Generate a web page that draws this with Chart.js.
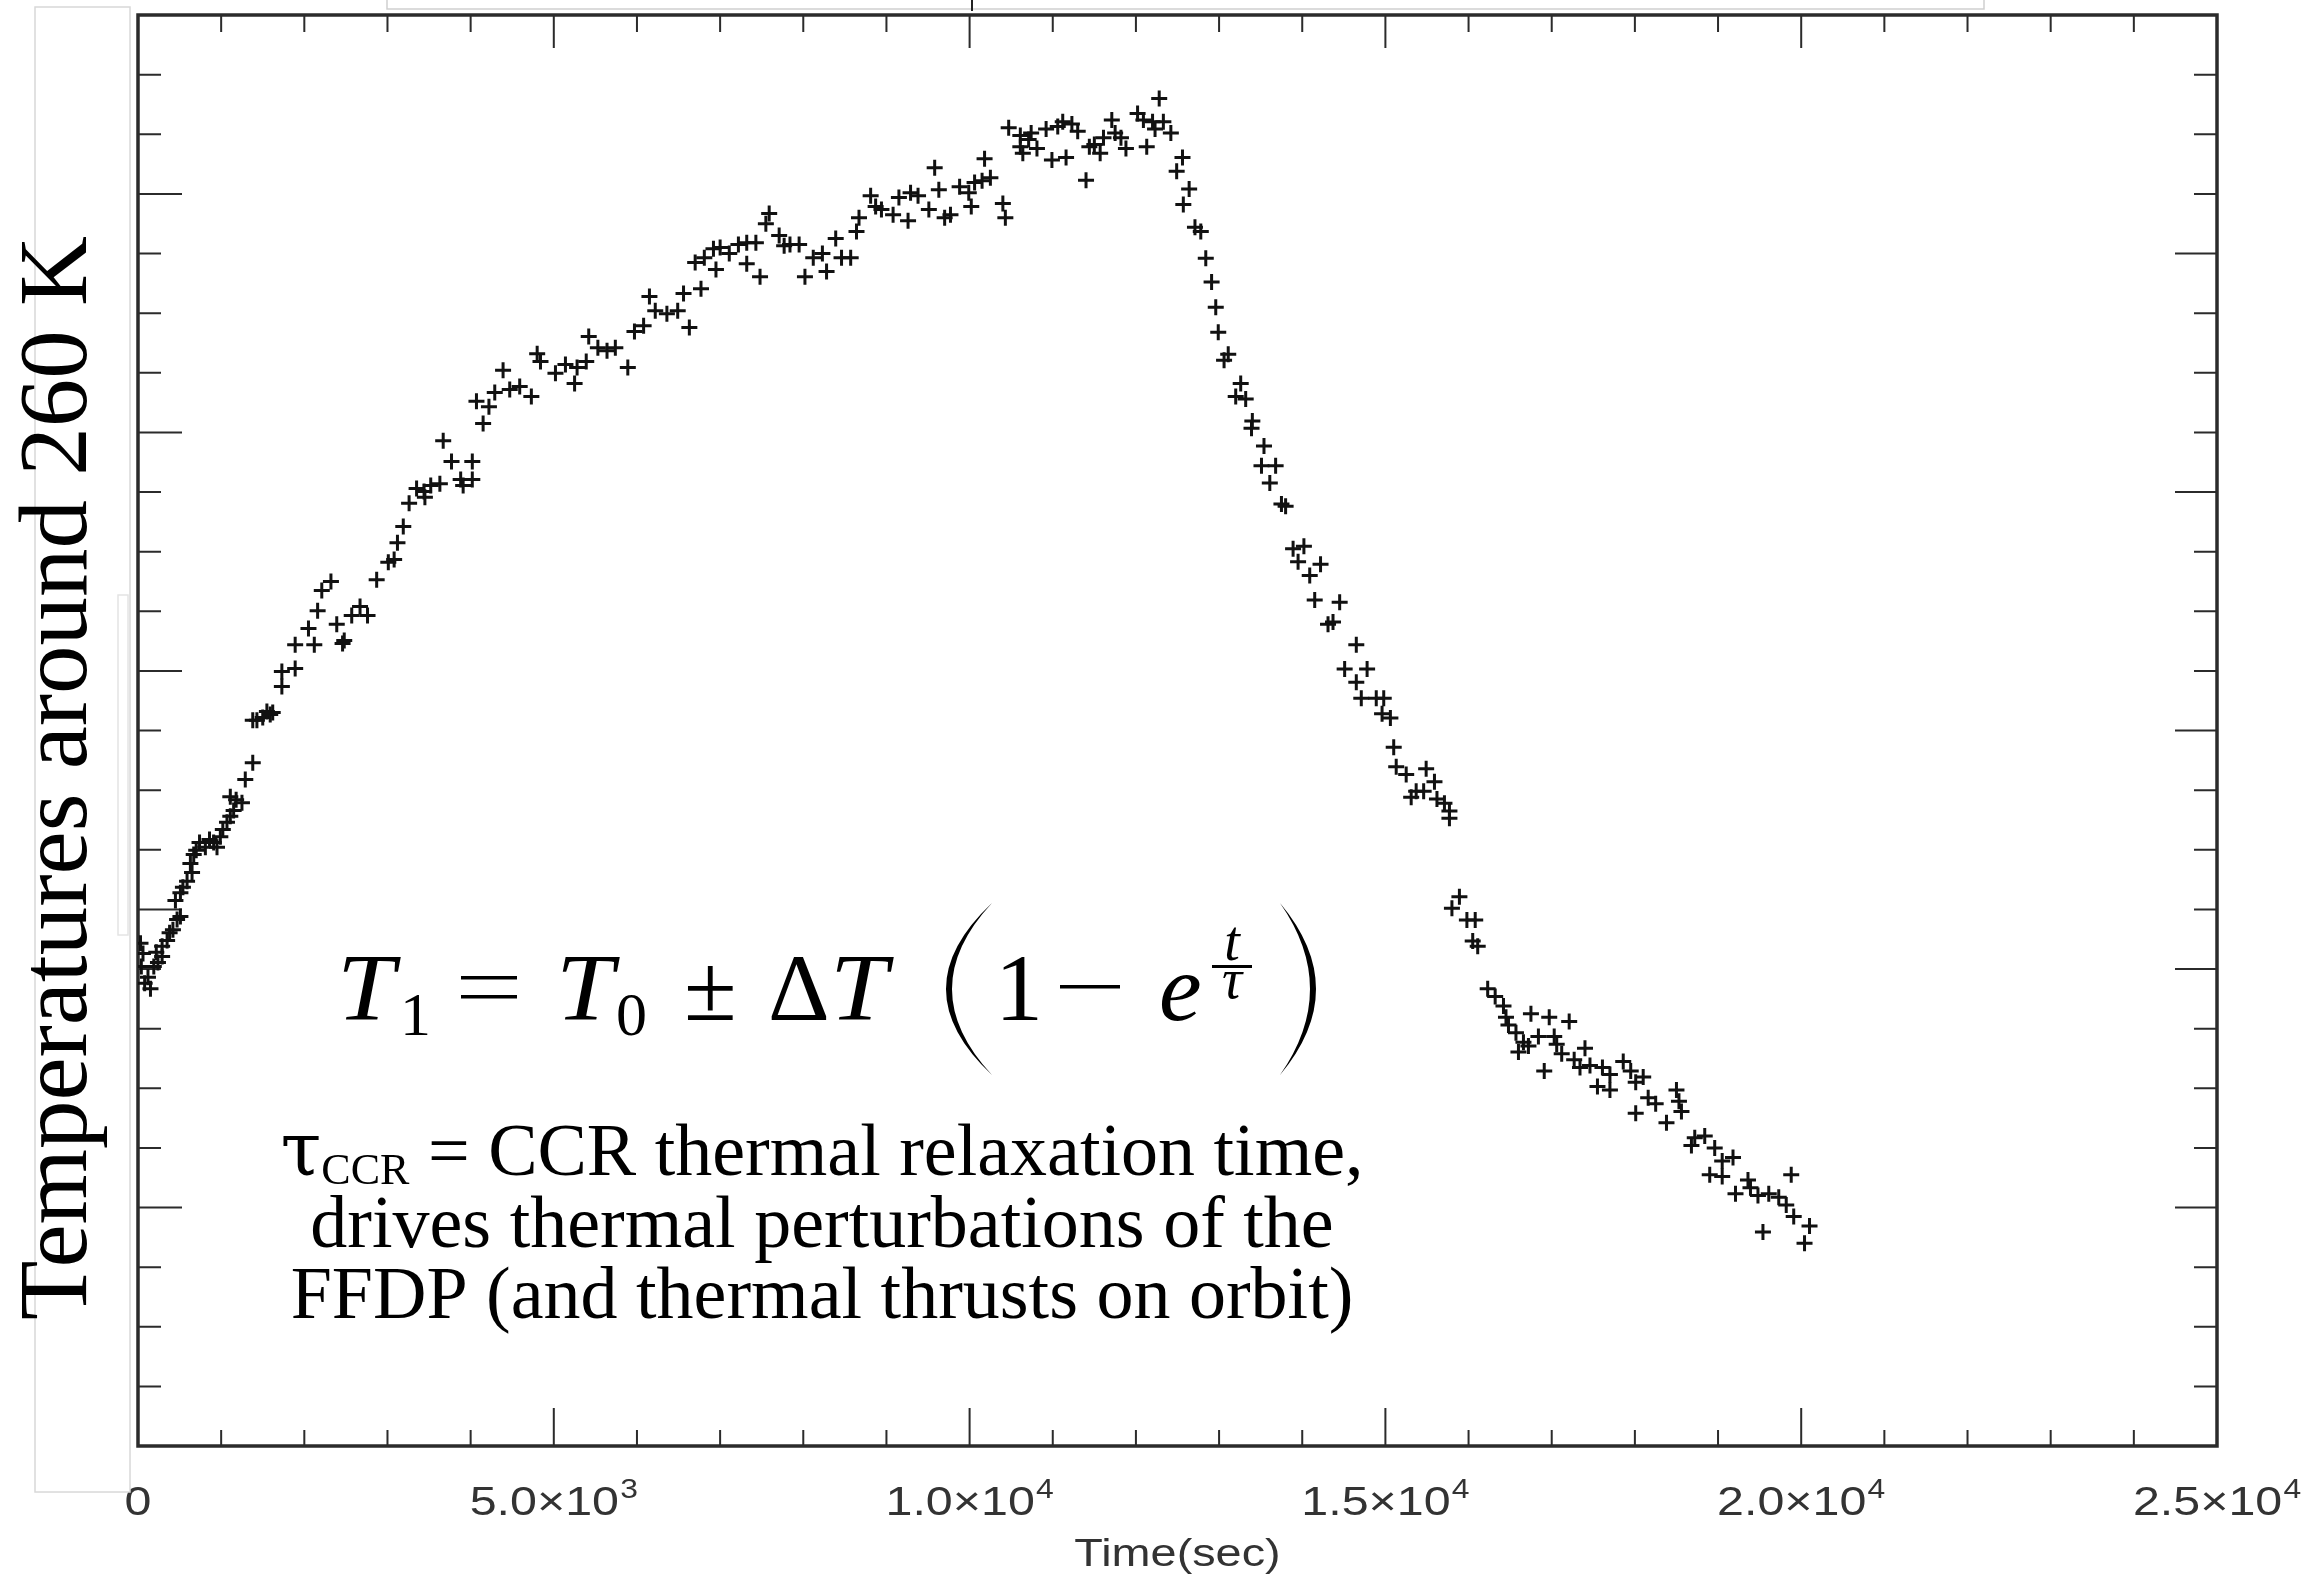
<!DOCTYPE html>
<html>
<head>
<meta charset="utf-8">
<script src="https://cdn.jsdelivr.net/npm/chart.js@4.4.1/dist/chart.umd.min.js"></script>
<style>
    html, body { margin: 0; padding: 0; background: #fff; }
    #wrap { width: 2315px; height: 1577px; position: relative; }
</style>
</head>
<body>
<div id="wrap"><canvas id="tempChart"></canvas></div>
<script>
// time in seconds
const tSec = [
    30, 40, 60, 80, 120, 150, 190, 220, 240, 290, 290, 350, 380, 420, 450, 470, 510, 510, 540, 590,
    630, 650, 670, 700, 740, 810, 860, 910, 950, 990, 1020, 1070, 1110, 1110, 1150, 1180, 1250, 1290, 1380, 1380,
    1430, 1500, 1550, 1590, 1620,
    1730, 1730, 1890, 1890, 2050, 2120, 2160, 2210, 2320, 2390, 2460, 2480, 2570, 2670, 2760, 2870, 3010, 3080, 3120, 3190,
    3260, 3350, 3440, 3450, 3520, 3630, 3670, 3770, 3880, 3910, 4020, 4020, 4070, 4150, 4220, 4290, 4390, 4470, 4590, 4730,
    4800, 4840, 5020, 5140, 5250, 5280, 5390, 5420, 5530, 5640, 5740, 5890, 5970, 6080, 6150, 6220, 6360, 6490, 6560, 6630,
    6700, 6770, 6810, 6920, 6950, 7000, 7110, 7220, 7320, 7320, 7430, 7480, 7550, 7590, 7710, 7770, 7840, 7950, 8020, 8120,
    8230, 8280, 8390, 8460, 8570, 8640, 8670, 8810, 8870, 8940, 9080, 9150, 9260, 9290, 9380, 9510, 9580, 9630, 9700, 9770,
    9880, 9990, 10020, 10060, 10150, 10180, 10250, 10400, 10430, 10470, 10610, 10610,
    10640, 10710, 10740, 10810, 10920, 10990, 11060, 11120, 11160, 11230, 11300, 11400, 11440, 11500, 11570, 11610, 11710, 11750, 11820, 11880,
    12020, 12090, 12130, 12200, 12230, 12280, 12330, 12420, 12490, 12560, 12570, 12640, 12710, 12780, 12840, 12910, 12960, 12990, 13060, 13110,
    13200, 13260, 13320, 13390, 13400, 13510, 13540, 13610, 13680, 13750, 13800, 13890, 13950, 14020, 14090, 14150, 14220, 14310, 14370, 14450,
    14510, 14650, 14650, 14710, 14780, 14890, 14960, 14980, 15060,
    15100, 15130, 15250, 15310, 15370, 15460, 15490, 15590, 15620, 15710, 15770, 15770, 15890, 15800, 15980, 16080, 16050, 16110, 16230, 16320,
    16420, 16450, 16480, 16750, 16970, 17210, 16570, 16660, 16840, 17030, 17060, 16600, 16720, 16910, 17120, 17270, 17400, 17340, 17460, 17610,
    17700, 17550, 17700, 17860, 17950, 18100, 18010, 18160, 18250, 18500, 18530, 18560, 18010, 18380, 18720, 18840, 18680, 18960, 19050, 19180,
    18900, 19050, 19360, 19210, 19390, 19480, 19610, 19730, 19880, 19820, 19910, 20100, 19540, 20040
];
// temperature, arbitrary offset units (axis has no labels)
const tempOffset = [
    8.43, 8.04, 8.26, 7.76, 7.86, 7.67, 8.04, 8.28, 8.11, 8.21, 8.38, 8.48, 8.61, 8.66, 9.15, 8.83, 8.88, 9.28, 9.37, 9.47,
    9.77, 9.62, 9.92, 9.99, 10.12, 10.04, 10.17, 10.12, 10.04, 10.22, 10.34, 10.46, 10.56, 10.89, 10.66, 10.84, 10.79, 11.18, 11.46, 12.17,
    12.17, 12.22, 12.32, 12.27, 12.30,
    12.74, 12.99, 13.04, 13.44, 13.71, 13.44, 14.01, 14.35, 14.50, 13.78, 13.46, 13.51, 13.93, 14.08, 13.93, 14.53, 14.82, 14.87, 15.15, 15.42,
    15.81, 16.06, 16.01, 15.91, 16.11, 16.14, 16.86, 16.51, 16.21, 16.11, 16.51, 16.21, 17.52, 17.15, 17.43, 17.67, 18.04, 17.72, 17.77, 17.60,
    18.32, 18.19, 17.99, 18.14, 17.82, 18.09, 18.19, 18.61, 18.42, 18.37, 18.42, 18.09, 18.69, 18.79, 19.28, 19.04, 18.99, 19.04, 19.33, 18.76,
    19.85, 19.41, 19.93, 20.08, 19.73, 20.10, 20.00, 20.15, 20.18, 19.83, 20.18, 19.61, 20.50, 20.67, 20.30, 20.13, 20.15, 20.15, 19.61, 19.93,
    20.00, 19.70, 20.25, 19.93, 19.93, 20.37, 20.60, 20.97, 20.79, 20.74, 20.65, 20.94, 20.55, 21.02, 20.97, 20.74, 21.44, 21.07, 20.60, 20.65,
    21.12, 21.02, 20.79, 21.19, 21.22, 21.59, 21.27, 20.84, 20.60, 22.11, 21.79, 21.98,
    21.68, 21.91, 22.02, 21.76, 22.09, 21.57, 22.13, 22.21, 21.61, 22.17, 22.05, 21.23, 21.79, 21.83, 21.68, 21.94, 22.24, 22.02, 21.94, 21.76,
    22.35, 22.24, 21.79, 22.21, 22.09, 22.60, 22.21, 22.02, 21.38, 21.61, 20.82, 21.08, 20.44, 20.37, 19.92, 19.52, 19.10, 18.68, 18.21, 18.31,
    17.60, 17.82, 17.56, 17.07, 17.19, 16.44, 16.77, 16.15, 16.44, 15.80, 15.76, 15.05, 14.83, 15.09, 14.60, 14.19, 14.79, 13.78, 13.82, 14.15,
    13.03, 13.44, 12.81, 12.54, 13.03, 12.54, 12.28, 12.54, 12.21,
    11.72, 11.39, 11.26, 10.88, 10.98, 10.98, 11.36, 11.14, 10.85, 10.78, 10.65, 10.53, 9.21, 9.02, 8.82, 8.82, 8.47, 8.38, 7.67, 7.54,
    7.38, 7.19, 7.06, 7.25, 7.19, 7.12, 6.93, 6.77, 6.87, 6.87, 6.74, 6.61, 6.71, 6.29, 6.58, 6.48, 6.67, 6.35, 6.38, 6.35,
    6.23, 6.03, 5.97, 6.45, 6.29, 6.19, 6.10, 5.84, 5.74, 5.97, 5.78, 5.61, 5.58, 5.42, 5.17, 5.20, 5.04, 5.00, 4.78, 4.84,
    4.55, 4.52, 4.46, 4.23, 4.33, 4.20, 4.23, 4.17, 4.55, 4.04, 3.85, 3.69, 3.59, 3.40
];

// axis ticks
const xMajorTicks = [0, 5000, 10000, 15000, 20000, 25000];
const xMinorTicks = [1000, 2000, 3000, 4000, 6000, 7000, 8000, 9000, 11000, 12000, 13000, 14000,
    16000, 17000, 18000, 19000, 21000, 22000, 23000, 24000];
const xTickMantissa = ['0', '5.0\u00d710', '1.0\u00d710', '1.5\u00d710', '2.0\u00d710', '2.5\u00d710'];
const xTickExponent = ['', '3', '4', '4', '4', '4'];
const yTicks = [1, 2, 3, 4, 5, 6, 7, 8, 9, 10, 11, 12, 13, 14, 15, 16, 17, 18, 19, 20, 21, 22, 23];
const yMajorLeft = [4, 9, 13, 17, 21];
const yMajorRight = [4, 8, 12, 16, 20];

const xTitle = 'Time(sec)';
const yTitle = 'Temperatures around 260 K';
const noteLines = ['drives thermal perturbations of the', 'FFDP (and thermal thrusts on orbit)'];

const points = tSec.map((t, i) => ({x: t, y: tempOffset[i]}));

function stretchedText(ctx, text, x0, baseY, font, sx) {
    ctx.font = font;
    ctx.save();
    ctx.translate(x0, baseY);
    ctx.scale(sx, 1);
    ctx.fillText(text, 0, 0);
    ctx.restore();
    return ctx.measureText(text).width * sx;
}

function paren(ctx, xTop, xOuter, xInner, yTop, yBot) {
    let ym = (yTop + yBot) / 2;
    ctx.beginPath();
    ctx.moveTo(xTop, yTop);
    ctx.quadraticCurveTo(2 * xOuter - xTop, ym, xTop, yBot);
    ctx.quadraticCurveTo(2 * xInner - xTop, ym, xTop, yTop);
    ctx.fill();
}

const framePlugin = {
    id: 'framePlugin',
    beforeDatasetsDraw(chart) {
        const {ctx, chartArea: a, scales: {x, y}} = chart;
        ctx.save();
        ctx.strokeStyle = '#2b2b2b';
        ctx.lineWidth = 2;
        ctx.beginPath();
        xMinorTicks.forEach(v => {
            let px = x.getPixelForValue(v);
            ctx.moveTo(px, a.bottom); ctx.lineTo(px, a.bottom - 16);
            ctx.moveTo(px, a.top); ctx.lineTo(px, a.top + 17);
        });
        xMajorTicks.forEach(v => {
            let px = x.getPixelForValue(v);
            ctx.moveTo(px, a.bottom); ctx.lineTo(px, a.bottom - 38);
            ctx.moveTo(px, a.top); ctx.lineTo(px, a.top + 33);
        });
        yTicks.forEach(v => {
            let py = y.getPixelForValue(v);
            let l = yMajorLeft.includes(v) ? 44 : 23;
            let r = yMajorRight.includes(v) ? 42 : 23;
            ctx.moveTo(a.left, py); ctx.lineTo(a.left + l, py);
            ctx.moveTo(a.right, py); ctx.lineTo(a.right - r, py);
        });
        ctx.stroke();
        ctx.lineWidth = 3.5;
        ctx.strokeRect(a.left, a.top, a.right - a.left, a.bottom - a.top);
        ctx.restore();
    },
    afterDraw(chart) {
        const {ctx, scales: {x}} = chart;
        ctx.save();

        // tick labels and x title
        ctx.fillStyle = '#333';
        ctx.textBaseline = 'alphabetic';
        xMajorTicks.forEach((v, i) => {
            let px = x.getPixelForValue(v);
            ctx.font = '41px "Liberation Sans"';
            let mw = ctx.measureText(xTickMantissa[i]).width;
            ctx.font = '27px "Liberation Sans"';
            let ew = xTickExponent[i] ? ctx.measureText(xTickExponent[i]).width + 1 : 0;
            let sx = 1.18;
            ctx.save();
            ctx.translate(px - (mw + ew) * sx / 2, 1515);
            ctx.scale(sx, 1);
            ctx.font = '41px "Liberation Sans"';
            ctx.fillText(xTickMantissa[i], 0, 0);
            ctx.font = '27px "Liberation Sans"';
            if (xTickExponent[i]) ctx.fillText(xTickExponent[i], mw + 1, -17);
            ctx.restore();
        });
        ctx.font = '39px "Liberation Sans"';
        let tw = ctx.measureText(xTitle).width * 1.2;
        stretchedText(ctx, xTitle, (x.left + x.right) / 2 - tw / 2, 1566, '39px "Liberation Sans"', 1.2);

        // leftover boxes from the pasted slide
        ctx.fillStyle = '#fff';
        ctx.fillRect(35, 7, 95, 1485);
        ctx.strokeStyle = '#d8d8d8';
        ctx.lineWidth = 1.5;
        ctx.strokeRect(35, 7, 95, 1485);
        ctx.strokeStyle = '#e4e4e4';
        ctx.strokeRect(118, 595, 10, 340);
        ctx.strokeStyle = '#cfcfcf';
        ctx.beginPath();
        ctx.moveTo(387, 0); ctx.lineTo(387, 9); ctx.lineTo(1984, 9); ctx.lineTo(1984, 0);
        ctx.stroke();
        ctx.strokeStyle = '#222';
        ctx.lineWidth = 2;
        ctx.beginPath();
        ctx.moveTo(972, 0); ctx.lineTo(972, 11);
        ctx.stroke();

        // y title
        ctx.fillStyle = '#000';
        ctx.save();
        ctx.translate(86, 778);
        ctx.rotate(-Math.PI / 2);
        ctx.textAlign = 'center';
        ctx.font = '97px "Liberation Serif"';
        ctx.fillText(yTitle, 0, 0);
        ctx.restore();

        // formula T1 = T0 +- dT (1 - e^(t/tau))
        const up = '96px "Liberation Serif"';
        const itl = 'italic 96px "Liberation Serif"';
        const sub = '62px "Liberation Serif"';
        const base = 1020;
        const subBase = 1035;
        ctx.textAlign = 'left';
        stretchedText(ctx, 'T', 337, base, itl, 1.08);
        ctx.font = sub; ctx.fillText('1', 400, subBase);
        ctx.fillRect(461, 976, 56, 3.5);
        ctx.fillRect(461, 995, 56, 3.5);
        stretchedText(ctx, 'T', 556, base, itl, 1.08);
        ctx.font = sub; ctx.fillText('0', 616, subBase);
        ctx.font = up; ctx.fillText('\u00b1', 684, base);
        ctx.font = up; ctx.fillText('\u0394', 768, base);
        stretchedText(ctx, 'T', 830, base, itl, 1.08);
        ctx.font = up; ctx.fillText('1', 995, base);
        ctx.fillRect(1060, 985, 60, 3.5);
        ctx.font = itl; ctx.fillText('e', 1159, base);
        ctx.textAlign = 'center';
        ctx.font = 'italic 56px "Liberation Serif"';
        ctx.fillText('t', 1232, 960);
        ctx.fillText('\u03c4', 1232, 998);
        ctx.fillRect(1212, 965, 40, 3);
        paren(ctx, 992, 946, 952, 903, 1075);
        paren(ctx, 1280, 1316, 1310, 903, 1075);

        // note text
        ctx.textAlign = 'left';
        const big = '74px "Liberation Serif"';
        const tau = '74px "DejaVu Serif"';
        const small = '44px "Liberation Serif"';
        const rest = ' = CCR thermal relaxation time,';
        ctx.font = tau; let w1 = ctx.measureText('\u03c4').width;
        ctx.font = small; let w2 = ctx.measureText('CCR').width;
        ctx.font = big; let w3 = ctx.measureText(rest).width;
        let sx0 = 822 - (w1 + w2 + w3) / 2;
        ctx.font = tau; ctx.fillText('\u03c4', sx0, 1175);
        ctx.font = small; ctx.fillText('CCR', sx0 + w1, 1184);
        ctx.font = big; ctx.fillText(rest, sx0 + w1 + w2, 1175);
        ctx.textAlign = 'center';
        ctx.fillText(noteLines[0], 822, 1247);
        ctx.fillText(noteLines[1], 822, 1318);

        ctx.restore();
    }
};

let ctx = document.getElementById('tempChart').getContext('2d');
new Chart(ctx, {
    type: 'scatter',
    data: {
        datasets: [{
            data: points,
            pointStyle: 'cross',
            pointRadius: 8,
            borderWidth: 3,
            borderColor: '#111',
            backgroundColor: '#111'
        }]
    },
    options: {
        responsive: true,
        maintainAspectRatio: false,
        devicePixelRatio: 1,
        animation: false,
        layout: {padding: {left: 138, right: 98, top: 15, bottom: 0}},
        plugins: {
            legend: {display: false},
            tooltip: {enabled: false}
        },
        scales: {
            x: {
                type: 'linear',
                min: 0,
                max: 25000,
                grid: {display: false},
                border: {display: false},
                ticks: {display: false},
                afterFit: (scale) => { scale.height = 131; }
            },
            y: {
                type: 'linear',
                min: 0,
                max: 24,
                grid: {display: false},
                border: {display: false},
                ticks: {display: false},
                afterFit: (scale) => { scale.width = 0; }
            }
        }
    },
    plugins: [framePlugin]
});
</script>
</body>
</html>
